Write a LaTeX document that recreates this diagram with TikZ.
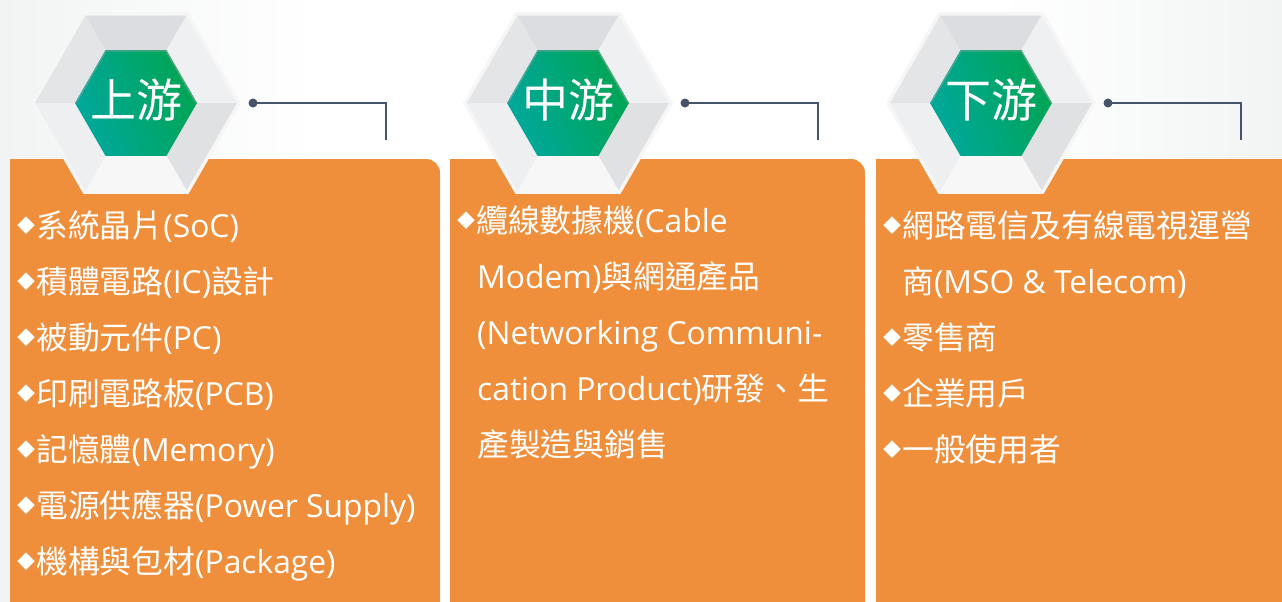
\documentclass[tikz,border=0pt]{standalone}
\usepackage{fontspec}
\setmainfont{Open Sans}
\newfontfamily\cjk{Noto Sans CJK TC}
\usetikzlibrary{calc}
\definecolor{orng}{HTML}{EF8F3C}
\definecolor{slate}{HTML}{44546A}
\definecolor{rim}{HTML}{F6F6F7}
\definecolor{fLR}{HTML}{E0E1E3}
\definecolor{fB}{HTML}{F7F7F8}
\definecolor{fLL}{HTML}{EEEFF0}
\definecolor{fUL}{HTML}{E4E5E7}
\definecolor{fT}{HTML}{DCDDE0}
\definecolor{fUR}{HTML}{EFF0F2}
\definecolor{gA}{HTML}{00A89C}
\definecolor{gB}{HTML}{00A552}
\definecolor{bgl}{HTML}{F2F4F4}
\newcommand{\C}[1]{{\cjk #1}}
\newcommand{\bul}{\makebox[19pt][l]{\cjk\fontsize{18}{18}\selectfont\raisebox{4.8pt}{◆}}}
\tikzset{
  panel/.style={fill=orng},
  hexlabel/.style={inner sep=0pt, text=white, font=\cjk\fontsize{46}{46}\selectfont},
  item/.style={anchor=base west, inner sep=0pt, text=white, font=\fontsize{31.8}{31.8}\selectfont},
  conn/.style={draw=slate, line width=1.6pt},
}
\begin{document}
\begin{tikzpicture}[x=1pt,y=-1pt]
\useasboundingbox (0,0) rectangle (1282,602);
\fill[white] (0,0) rectangle (1282,602);
\shade[left color=bgl, right color=white] (0,0) rectangle (320,602);
\shade[left color=white, right color=bgl] (1000,0) rectangle (1282,602);
% panels
\fill[panel] (10,630) -- (10,159) [rounded corners=14pt] -- (440,159) -- (440,630) [sharp corners] -- cycle;
\fill[panel] (450,630) -- (450,159) [rounded corners=14pt] -- (865,159) -- (865,630) [sharp corners] -- cycle;
\fill[panel] (876,630) -- (876,159) -- (1300,159) -- (1300,630) -- cycle;
% hexagon badges and connectors
\foreach \cx/\lab/\n in {136/上游/1, 568/中游/2, 991/下游/3} {
  \coordinate (c\n) at (\cx,103);
  \fill[rim] ($(c\n)+(0:105)$) -- ($(c\n)+(60:105)$) -- ($(c\n)+(120:105)$) -- ($(c\n)+(180:105)$) -- ($(c\n)+(240:105)$) -- ($(c\n)+(300:105)$) -- cycle;
  \foreach \a/\col in {0/fLR,60/fB,120/fLL,180/fUL,240/fT,300/fUR} {
    \fill[\col] ($(c\n)+(\a:101)$) -- ($(c\n)+(\a+60:101)$) -- ($(c\n)+(\a+60:61)$) -- ($(c\n)+(\a:61)$) -- cycle;
  }
  \shade[left color=gA, right color=gB, shading angle=110] ($(c\n)+(0:61)$) -- ($(c\n)+(60:61)$) -- ($(c\n)+(120:61)$) -- ($(c\n)+(180:61)$) -- ($(c\n)+(240:61)$) -- ($(c\n)+(300:61)$) -- cycle;
  \draw[black!35, opacity=0.5, line width=1.2pt] ($(c\n)+(180:60)$) -- ($(c\n)+(240:60)$) -- ($(c\n)+(300:60)$) -- ($(c\n)+(0:60)$);
  \node[hexlabel] (h\n) at (\cx,100) {\lab};
  \coordinate (d\n) at (\cx+117,103);
  \coordinate (e\n) at (\cx+250,140);
  \fill[slate] (d\n) circle (4.5pt);
  \draw[conn] (d\n) -| (e\n);
}
% panel 1 text
\node[item] (p1a) at (17,237) {\bul\C{系統晶片}(SoC)};
\node[item] (p1b) at (17,293) {\bul\C{積體電路}(IC)\C{設計}};
\node[item] (p1c) at (17,349) {\bul\C{被動元件}(PC)};
\node[item] (p1d) at (17,405) {\bul\C{印刷電路板}(PCB)};
\node[item] (p1e) at (17,461) {\bul\C{記憶體}(Memory)};
\node[item] (p1f) at (17,517) {\bul\C{電源供應器}(Power Supply)};
\node[item] (p1g) at (17,573) {\bul\C{機構與包材}(Package)};
% panel 2 text
\node[item] (p2a) at (457,232) {\bul\C{纜線數據機}(Cable};
\node[item] (p2b) at (477,288) {Modem)\C{與網通產品}};
\node[item] (p2c) at (477,344) {(Networking Communi-};
\node[item] (p2d) at (477,400) {cation Product)\C{研發、生}};
\node[item] (p2e) at (477,456) {\C{產製造與銷售}};
% panel 3 text
\node[item] (p3a) at (883,237) {\bul\C{網路電信及有線電視運營}};
\node[item] (p3b) at (902,293) {\C{商}(MSO \& Telecom)};
\node[item] (p3c) at (883,349) {\bul\C{零售商}};
\node[item] (p3d) at (883,405) {\bul\C{企業用戶}};
\node[item] (p3e) at (883,461) {\bul\C{一般使用者}};
\end{tikzpicture}
\end{document}
